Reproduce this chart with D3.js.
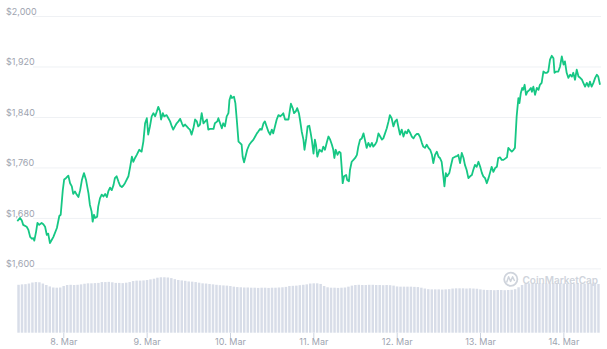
<!DOCTYPE html>
<html>
<head>
<meta charset="utf-8">
<script src="https://cdnjs.cloudflare.com/ajax/libs/d3/7.8.5/d3.min.js"></script>
<style>
    body { margin: 0; background: #fff; }
    svg text { font-family: Inter, "Noto Sans", sans-serif; }
</style>
</head>
<body>
<div id="chart"></div>
<script>
// start of the 7 day window, offsets below are in hours from here
var start = new Date(2021, 2, 7, 10, 45);

// [hours from start, price in USD]
var priceSeries = [
    [0.0,1675],[0.8,1680],[1.3,1676],[1.7,1669],[2.7,1666],[3.2,1661],[3.7,1650],[4.2,1647],[4.6,1648],[4.9,1644],
    [5.4,1658],[5.8,1672],[6.3,1669],[7.0,1672],[7.5,1670],[8.0,1666],[8.5,1653],[8.9,1655],[9.4,1640],[9.9,1645],
    [10.4,1650],[11.4,1664],[12.1,1683],[12.5,1685],[13.1,1724],[13.5,1741],[14.0,1743],[14.7,1747],[15.2,1735],[15.7,1730],
    [16.1,1718],[16.6,1722],[17.1,1717],[17.6,1713],[18.1,1724],[18.6,1740],[19.2,1751],[19.8,1740],[20.5,1719],[20.9,1701],
    [21.4,1690],[21.7,1674],[22.1,1685],[22.4,1680],[23.0,1682],[23.3,1698],[23.8,1711],[24.3,1717],[24.8,1714],[25.3,1718],
    [25.8,1713],[26.2,1722],[26.7,1728],[27.2,1724],[27.7,1732],[28.1,1743],[28.6,1746],[29.1,1738],[29.6,1731],[30.1,1729],
    [30.5,1731],[31.0,1735],[32.0,1746],[32.5,1761],[33.0,1777],[33.4,1769],[33.9,1775],[34.4,1780],[35.1,1788],[35.8,1785],
    [36.3,1801],[36.8,1830],[37.3,1838],[37.7,1812],[38.2,1825],[38.7,1841],[39.2,1846],[39.7,1841],[40.2,1849],[40.6,1856],
    [41.1,1849],[41.4,1836],[41.9,1846],[42.3,1841],[43.0,1843],[43.5,1838],[44.0,1833],[44.5,1825],[44.9,1820],[45.4,1825],
    [45.9,1830],[46.4,1833],[46.9,1837],[47.4,1830],[47.8,1825],[48.3,1828],[48.8,1825],[49.3,1822],[49.7,1820],[50.2,1812],
    [50.7,1822],[51.2,1836],[51.7,1833],[52.1,1825],[52.6,1828],[53.1,1846],[53.6,1830],[54.1,1833],[54.6,1836],[55.0,1820],
    [55.5,1821],[56.5,1821],[56.9,1830],[57.6,1833],[57.9,1838],[58.4,1830],[58.9,1822],[59.3,1830],[59.8,1825],[60.3,1841],
    [60.8,1846],[61.1,1867],[61.5,1874],[61.8,1870],[62.4,1872],[62.8,1862],[63.2,1836],[63.7,1801],[64.1,1799],[64.6,1796],
    [64.9,1777],[65.3,1768],[65.7,1777],[66.2,1788],[66.8,1796],[67.5,1801],[68.0,1804],[68.5,1809],[69.0,1814],[69.4,1817],
    [69.9,1821],[70.4,1820],[70.9,1830],[71.3,1833],[71.8,1825],[72.3,1817],[72.8,1812],[73.3,1820],[73.7,1814],[74.2,1825],
    [74.7,1836],[75.2,1843],[75.7,1841],[76.2,1843],[76.6,1846],[77.1,1836],[77.6,1836],[78.1,1836],[78.5,1851],[78.8,1861],
    [79.3,1854],[79.7,1846],[80.2,1849],[80.6,1854],[81.1,1846],[81.4,1836],[81.9,1817],[82.4,1804],[82.7,1788],[83.2,1806],
    [83.6,1825],[84.1,1826],[84.5,1814],[84.8,1804],[85.3,1782],[85.7,1804],[86.0,1796],[86.4,1777],[87.0,1788],[87.7,1785],
    [88.1,1793],[88.6,1788],[89.1,1799],[89.6,1809],[90.1,1804],[90.6,1796],[91.0,1788],[91.3,1775],[91.7,1788],[92.2,1780],
    [92.7,1785],[93.1,1783],[93.4,1761],[93.7,1735],[94.1,1746],[94.7,1748],[95.0,1740],[95.5,1738],[95.8,1756],[96.3,1769],
    [96.8,1772],[97.3,1775],[97.8,1780],[98.2,1793],[98.7,1804],[99.2,1806],[99.7,1814],[100.1,1804],[100.6,1791],[101.1,1799],
    [101.6,1793],[102.1,1799],[102.5,1793],[103.0,1796],[103.5,1801],[104.0,1814],[104.5,1809],[105.0,1804],[105.4,1806],[105.9,1814],
    [106.4,1822],[106.9,1833],[107.3,1843],[107.8,1838],[108.3,1825],[108.8,1833],[109.3,1836],[109.7,1825],[110.2,1812],[110.7,1820],
    [111.2,1809],[111.7,1817],[112.2,1814],[112.6,1820],[113.1,1815],[113.6,1809],[114.1,1806],[114.5,1810],[115.0,1813],[115.5,1813],
    [116.0,1808],[116.5,1799],[116.9,1793],[117.4,1791],[117.9,1796],[118.4,1791],[118.9,1788],[119.4,1780],[119.8,1767],[120.3,1780],
    [120.8,1785],[121.3,1777],[121.7,1775],[122.2,1769],[122.7,1746],[123.0,1730],[123.4,1751],[123.8,1746],[124.4,1751],[124.8,1761],
    [125.4,1775],[126.1,1777],[126.6,1778],[127.0,1780],[127.5,1767],[128.0,1783],[128.5,1775],[128.9,1764],[129.4,1756],[129.9,1743],
    [130.4,1746],[130.9,1748],[131.3,1756],[131.8,1764],[132.3,1761],[132.8,1769],[133.3,1761],[133.8,1751],[134.2,1746],[134.7,1743],
    [135.2,1735],[135.7,1743],[136.1,1751],[136.6,1761],[137.1,1753],[137.6,1759],[138.1,1761],[138.5,1775],[139.0,1776],[139.5,1772],
    [140.0,1772],[140.5,1774],[141.0,1776],[141.4,1791],[141.9,1788],[142.4,1785],[142.9,1788],[143.3,1791],[143.8,1841],[144.3,1870],
    [144.6,1862],[145.0,1878],[145.4,1886],[145.7,1883],[146.1,1891],[146.5,1875],[146.9,1880],[147.5,1883],[147.9,1886],[148.2,1880],
    [148.6,1888],[149.1,1875],[149.6,1886],[150.1,1883],[150.5,1891],[151.0,1894],[151.5,1912],[152.0,1910],[152.5,1910],[152.9,1912],
    [153.4,1931],[153.9,1937],[154.4,1933],[154.7,1910],[155.2,1912],[155.8,1912],[156.3,1920],[156.8,1936],[157.3,1923],[157.7,1928],
    [158.2,1910],[158.7,1902],[159.2,1907],[159.7,1904],[160.1,1910],[160.6,1899],[161.1,1915],[161.6,1904],[162.1,1902],[162.6,1899],
    [163.0,1894],[163.5,1888],[164.0,1894],[164.5,1888],[164.9,1896],[165.4,1888],[165.9,1894],[166.4,1902],[166.9,1907],[167.3,1904],
    [167.8,1891]
];

// hourly volume, billions USD
var volumeSeries = [
    23.0,23.2,23.3,23.6,24.1,24.3,24.2,23.6,22.9,22.2,
    21.7,21.6,21.7,22.4,22.9,23.0,22.9,23.0,23.2,23.5,
    23.7,23.7,23.8,23.9,24.3,24.3,24.4,24.2,23.9,23.9,
    23.8,24.0,24.3,24.8,25.0,25.0,25.1,25.3,25.6,25.9,
    26.4,26.6,26.6,26.5,26.2,25.7,25.3,25.1,24.9,24.6,
    24.5,24.3,24.0,23.7,23.6,23.4,23.2,23.0,22.8,22.7,
    22.6,22.4,22.1,21.9,21.8,21.7,21.7,21.6,21.6,21.5,
    21.6,21.6,21.5,21.6,21.6,21.7,21.8,22.0,22.4,22.5,
    22.6,22.8,23.0,23.2,23.6,23.7,23.7,23.4,22.4,21.8,
    21.6,21.6,21.5,21.6,21.7,22.1,22.6,22.9,23.0,22.9,
    22.9,23.0,23.0,22.9,22.9,22.8,22.9,22.8,22.6,22.2,
    22.1,22.1,22.1,22.1,22.0,21.9,21.6,21.2,20.9,20.8,
    20.8,20.8,20.7,20.8,20.9,21.2,21.3,21.3,21.3,21.2,
    21.3,21.2,21.1,20.8,20.6,20.5,20.5,20.4,20.5,20.5,
    20.4,20.5,20.6,20.9,21.8,22.9,23.5,23.7,23.7,23.8,
    23.7,23.7,23.6,23.7,23.8,23.7,23.7,23.6,23.7,23.7,
    23.6,23.7,23.6,23.5,23.5,23.6,23.5,23.4
];

var priceTicks = [1600, 1680, 1760, 1840, 1920, 2000];
var dayTicks = [8, 9, 10, 11, 12, 13, 14];

function hoursToDate(h) {
    return new Date(start.getTime() + h * 3600 * 1000);
}

function createChart() {
    var width = 607, height = 349;

    var svg = d3.select("#chart").append("svg")
        .attr("width", width)
        .attr("height", height);

    var x = d3.scaleTime()
        .domain([start, hoursToDate(167.8)])
        .range([17.3, 600]);
    var y = d3.scaleLinear()
        .domain([1600, 2000])
        .range([268.4, 16]);
    var yVol = d3.scaleLinear()
        .domain([0, 30])
        .range([332.7, 270.2]);

    // price gridlines + labels sitting on top of them
    svg.append("g")
        .attr("transform", "translate(33,0)")
        .call(d3.axisRight(y)
            .tickValues(priceTicks)
            .tickSize(568)
            .tickFormat(function(d) { return "$" + d3.format(",")(d); }))
        .call(function(g) { g.select(".domain").remove(); })
        .call(function(g) { g.selectAll("line").attr("stroke", "#eff1f4"); })
        .call(function(g) {
            g.selectAll("text")
                .attr("x", -27)
                .attr("dy", -1.8)
                .attr("text-anchor", "start")
                .attr("fill", "#9ea4b0")
                .attr("font-size", "9px");
        });

    // volume bars
    var step = x(hoursToDate(1)) - x(hoursToDate(0));
    svg.append("g").selectAll("rect")
        .data(volumeSeries)
        .enter().append("rect")
        .attr("x", function(d, i) { return x(hoursToDate(i)); })
        .attr("width", step - 1)
        .attr("y", function(d) { return yVol(d); })
        .attr("height", function(d) { return yVol(0) - yVol(d); })
        .attr("fill", "#d8dde8");

    // day axis
    svg.append("g")
        .attr("transform", "translate(0,333)")
        .call(d3.axisBottom(x)
            .tickValues(dayTicks.map(function(d) { return new Date(2021, 2, d); }))
            .tickSize(5)
            .tickFormat(d3.timeFormat("%-d. %b")))
        .call(function(g) { g.select(".domain").remove(); })
        .call(function(g) { g.selectAll("line").attr("stroke", "#ccd3df"); })
        .call(function(g) {
            g.selectAll("text")
                .attr("y", 6)
                .attr("fill", "#9ea4b0")
                .attr("font-size", "9px");
        });

    // watermark
    var mark = svg.append("g").attr("fill", "none").attr("stroke", "#cfd4dc");
    mark.append("circle")
        .attr("cx", 510.8).attr("cy", 279.2).attr("r", 6.6)
        .attr("stroke-width", 1.8);
    mark.append("path")
        .attr("d", "M506.6,282.4 L508.6,276.8 L510.6,281.4 L512.6,276.8 L514.6,281")
        .attr("stroke-width", 1.5)
        .attr("stroke-linejoin", "round");
    svg.append("text")
        .attr("x", 522.5)
        .attr("y", 284)
        .attr("fill", "#cfd4dc")
        .attr("font-size", "10px")
        .attr("font-weight", 600)
        .text("CoinMarketCap");

    // price line
    var line = d3.line()
        .x(function(d) { return x(hoursToDate(d[0])); })
        .y(function(d) { return y(d[1]); });

    svg.append("path")
        .datum(priceSeries)
        .attr("fill", "none")
        .attr("stroke", "#16c784")
        .attr("stroke-width", 1.8)
        .attr("stroke-linejoin", "round")
        .attr("d", line);
}

createChart();
</script>
</body>
</html>
